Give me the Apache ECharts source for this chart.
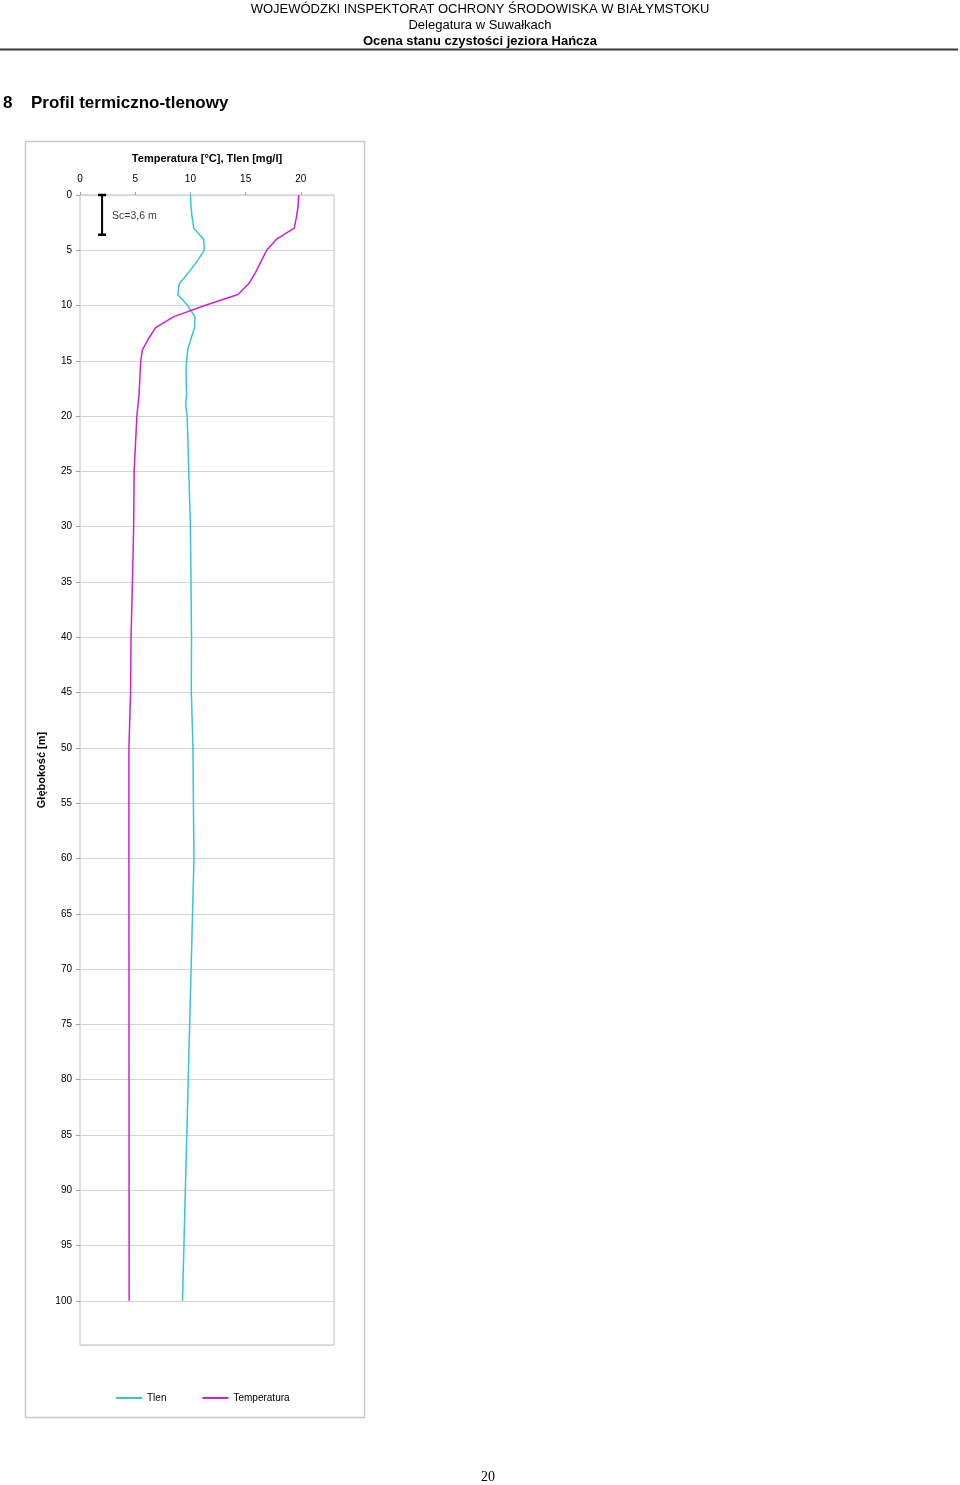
<!DOCTYPE html>
<html>
<head>
<meta charset="utf-8">
<script src="https://cdn.jsdelivr.net/npm/echarts@6/dist/echarts.min.js"></script>
<style>
html,body{margin:0;padding:0;background:#fff;}
#chart{width:960px;height:1485px;}
</style>
</head>
<body>
<div id="chart"></div>
<script>
// Depth of each measurement [m]
var depths = [0,1,2,3,4,5,6,7,8,9,10,11,12,13,14,15,16,17,18,19,20,25,30,35,40,45,50,55,60,100];
// Temperatura [°C]
var temperature = [19.8,19.75,19.6,19.4,17.8,16.9,16.4,15.9,15.3,14.3,11.3,8.5,6.85,6.2,5.65,5.5,5.45,5.4,5.35,5.25,5.15,4.9,4.86,4.75,4.62,4.58,4.43,4.43,4.43,4.45];
// Tlen [mg/l]
var oxygen = [10.0,10.05,10.15,10.3,11.2,11.25,10.6,9.85,9.0,8.85,9.75,10.4,10.38,10.05,9.75,9.65,9.6,9.62,9.65,9.57,9.7,9.85,10.0,10.05,10.1,10.08,10.23,10.27,10.32,9.28];
// Secchi depth (Sc) marker
var secchiX = 2;
var secchiDepth = [0, 3.6];
var secchiLabel = 'Sc=3,6 m';
var seriesNames = ['Tlen','Temperatura'];
var xAxisTitle = 'Temperatura [°C], Tlen [mg/l]';
var yAxisTitle = 'Głębokość [m]';

var FONT = '"Liberation Sans", Arial, sans-serif';

var chart = echarts.init(document.getElementById('chart'), null, {renderer:'canvas'});
var option = {
  backgroundColor:'#ffffff',
  animation:false,
  textStyle:{fontFamily:FONT},
  graphic:[
    {type:'text', x:480, y:9.5, style:{text:'WOJEWÓDZKI INSPEKTORAT OCHRONY ŚRODOWISKA W BIAŁYMSTOKU', align:'center', verticalAlign:'middle', font:'13px '+FONT, fill:'#000'}},
    {type:'text', x:480, y:25.5, style:{text:'Delegatura w Suwałkach', align:'center', verticalAlign:'middle', font:'13px '+FONT, fill:'#000'}},
    {type:'text', x:480, y:41.5, style:{text:'Ocena stanu czystości jeziora Hańcza', align:'center', verticalAlign:'middle', font:'bold 13px '+FONT, fill:'#000'}},
    {type:'line', shape:{x1:0,y1:49.5,x2:958,y2:49.5}, style:{stroke:'#3a3a3a', lineWidth:1.8}},
    {type:'text', x:3, y:103, style:{text:'8', align:'left', verticalAlign:'middle', font:'bold 17px '+FONT, fill:'#000'}},
    {type:'text', x:31, y:103, style:{text:'Profil termiczno-tlenowy', align:'left', verticalAlign:'middle', font:'bold 17px '+FONT, fill:'#000'}},
    {type:'rect', z:-10, shape:{x:25.5,y:141.5,width:339,height:1276}, style:{fill:'none', stroke:'#c8c8c8', lineWidth:1.5}},
    {type:'text', x:488, y:1477, style:{text:'20', align:'center', verticalAlign:'middle', font:'14px "Liberation Serif", "Times New Roman", serif', fill:'#000'}}
  ],
  legend:{
    data:seriesNames,
    left:111, top:1388,
    icon:'rect', itemWidth:26, itemHeight:2, itemGap:36,
    textStyle:{fontSize:10, color:'#000', fontFamily:FONT}
  },
  grid:{left:80, top:195, width:254, height:1150, show:true, borderColor:'#c0c0c0', borderWidth:1, containLabel:false},
  xAxis:{
    type:'value', position:'top', min:0, max:23, interval:5,
    name:xAxisTitle, nameLocation:'middle', nameGap:31,
    nameTextStyle:{fontWeight:'bold', fontSize:11, color:'#000', fontFamily:FONT},
    axisLine:{show:false},
    axisTick:{show:true, length:3, lineStyle:{color:'#a0a0a0'}},
    axisLabel:{showMaxLabel:false, margin:11, fontSize:10, color:'#000', fontFamily:FONT},
    splitLine:{show:false}
  },
  yAxis:{
    type:'value', inverse:true, min:0, max:104, interval:5,
    name:yAxisTitle, nameLocation:'middle', nameGap:33, nameRotate:90,
    nameTextStyle:{fontWeight:'bold', fontSize:11, color:'#000', fontFamily:FONT},
    axisLine:{show:false},
    axisTick:{show:true, length:4, lineStyle:{color:'#a0a0a0'}},
    axisLabel:{showMaxLabel:false, margin:8, fontSize:10, color:'#000', fontFamily:FONT},
    splitLine:{show:true, lineStyle:{color:'#d4d4d4', width:1}}
  },
  series:[
    {name:seriesNames[0], type:'line', symbol:'none', showSymbol:false,
     data:depths.map(function(d,i){return [oxygen[i], d];}),
     lineStyle:{color:'#33c6dc', width:1.5}, itemStyle:{color:'#33c6dc'}},
    {name:seriesNames[1], type:'line', symbol:'none', showSymbol:false,
     data:depths.map(function(d,i){return [temperature[i], d];}),
     lineStyle:{color:'#d21ed2', width:1.5}, itemStyle:{color:'#d21ed2'}},
    {name:'Sc', type:'line', clip:false, silent:true,
     data:secchiDepth.map(function(d){return [secchiX, d];}),
     symbol:'rect', symbolSize:[8,2.5], showSymbol:true,
     lineStyle:{color:'#000', width:2}, itemStyle:{color:'#000'}},
    {name:'ScLabel', type:'scatter', silent:true, symbolSize:0,
     data:[[secchiX, (secchiDepth[0]+secchiDepth[1])/2 + 0.1]],
     label:{show:true, position:'right', distance:10, formatter:secchiLabel, fontSize:10.5, color:'#000', fontFamily:FONT}}
  ]
};
chart.setOption(option);
</script>
</body>
</html>
